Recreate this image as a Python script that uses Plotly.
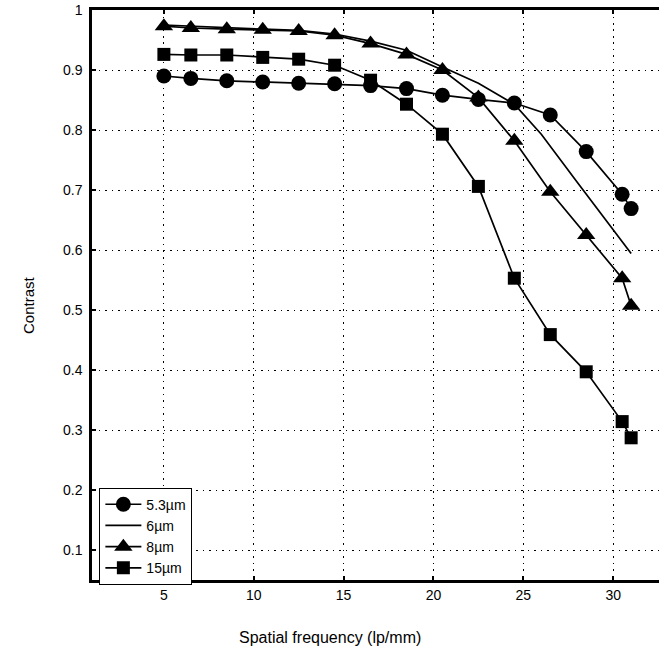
import plotly.graph_objects as go

# Spatial frequency (lp/mm)
freq = [5, 6.5, 8.5, 10.5, 12.5, 14.5, 16.5, 18.5, 20.5, 22.5, 24.5, 26.5, 28.5, 30.5, 31]
freq_6um = [5, 6.5, 8.5, 10.5, 12.5, 14.5, 16.5, 18.5, 20.5, 22.5, 24.5, 26, 28, 30, 31]

c_5_3um = [0.890, 0.886, 0.882, 0.880, 0.878, 0.877, 0.874, 0.869, 0.858, 0.851, 0.845, 0.825, 0.764, 0.693, 0.669]
c_6um = [0.975, 0.973, 0.970, 0.968, 0.966, 0.960, 0.948, 0.933, 0.905, 0.878, 0.843, 0.793, 0.713, 0.633, 0.594]
c_8um = [0.973, 0.970, 0.968, 0.967, 0.965, 0.958, 0.944, 0.926, 0.900, 0.854, 0.782, 0.697, 0.625, 0.553, 0.507]
c_15um = [0.926, 0.925, 0.925, 0.921, 0.918, 0.908, 0.883, 0.843, 0.793, 0.706, 0.553, 0.459, 0.397, 0.314, 0.287]

x_ticks = [5, 10, 15, 20, 25, 30]
y_ticks = [0.1, 0.2, 0.3, 0.4, 0.5, 0.6, 0.7, 0.8, 0.9, 1.0]
y_tick_labels = ["0.1", "0.2", "0.3", "0.4", "0.5", "0.6", "0.7", "0.8", "0.9", "1"]

FONT = "Liberation Sans, Arial, Helvetica, sans-serif"
LINE = dict(color="black", width=1.7)

fig = go.Figure()
fig.add_trace(go.Scatter(x=freq, y=c_5_3um, name="5.3\u00b5m", mode="lines+markers",
                         line=LINE, marker=dict(symbol="circle", size=15, color="black")))
fig.add_trace(go.Scatter(x=freq_6um, y=c_6um, name="6\u00b5m", mode="lines", line=LINE))
fig.add_trace(go.Scatter(x=freq, y=c_8um, name="8\u00b5m", mode="lines+markers",
                         line=LINE, marker=dict(symbol="triangle-up", size=16, color="black")))
fig.add_trace(go.Scatter(x=freq, y=c_15um, name="15\u00b5m", mode="lines+markers",
                         line=LINE, marker=dict(symbol="square", size=13, color="black")))

fig.update_layout(
    width=659, height=653,
    margin=dict(l=92, r=0, t=10, b=73),
    paper_bgcolor="white", plot_bgcolor="white",
    font=dict(family=FONT, size=14, color="black"),
    showlegend=True,
    legend=dict(x=0.013, y=0.162, xanchor="left", yanchor="top",
                bgcolor="white", bordercolor="black", borderwidth=1,
                font=dict(size=14), tracegroupgap=0, itemwidth=36),
    xaxis=dict(range=[1, 32.55], tickvals=x_ticks, showgrid=True,
               gridcolor="black", gridwidth=1, griddash="1.5px,5px",
               showline=True, linecolor="black", linewidth=2.5, mirror="ticks",
               ticks="inside", ticklen=4, tickwidth=2, tickcolor="black",
               zeroline=False, tickfont=dict(size=14)),
    yaxis=dict(range=[0.05, 1.0], tickvals=y_ticks, ticktext=y_tick_labels, showgrid=True,
               gridcolor="black", gridwidth=1, griddash="1.5px,5px",
               showline=True, linecolor="black", linewidth=2.5, mirror=False,
               ticks="inside", ticklen=4, tickwidth=2, tickcolor="black",
               zeroline=False, tickfont=dict(size=14), ticklabelstandoff=4),
    annotations=[
        dict(text="Spatial frequency (lp/mm)", xref="paper", yref="paper",
             x=(330 - 92) / 567, y=-(637 - 580) / 570, xanchor="center", yanchor="middle",
             showarrow=False, font=dict(size=16)),
        dict(text="Contrast", xref="paper", yref="paper", textangle=-90,
             x=(28 - 92) / 567, y=(580 - 305) / 570, xanchor="center", yanchor="middle",
             showarrow=False, font=dict(size=15)),
    ],
)

fig.write_html("out.html")
